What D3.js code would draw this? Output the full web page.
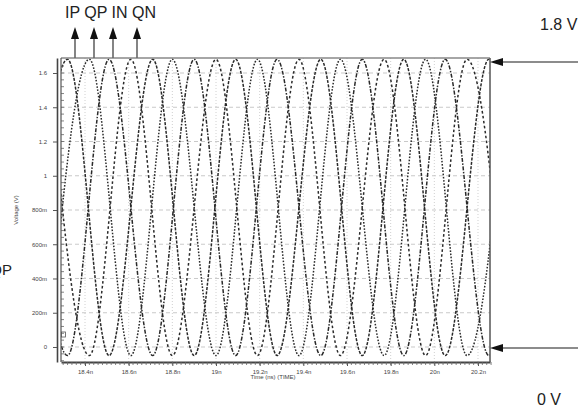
<!DOCTYPE html>
<html lang="en">
<head>
<meta charset="UTF-8">
<title>IQ clock waveforms</title>
<script src="https://d3js.org/d3.v7.min.js"></script>
<style>
    body { margin: 0; background: #fff; }
    svg { display: block; font-family: "Liberation Sans", Arial, sans-serif; }
    .small_text { font-size: 6px; fill: #444; }
    .big_text { font-size: 16px; fill: #222; }
</style>
</head>
<body>
<svg width="578" height="408"></svg>

<script>
    // the four clock phases
    const signals = ["IP", "QP", "IN", "QN"];
    // time (ns) of every peak along the top, left to right; the owner cycles IN, QN, IP, QP, ...
    const peakTimes = [18.13, 18.23, 18.32, 18.42, 18.51, 18.61, 18.71, 18.80, 18.90, 19.00,
                       19.09, 19.19, 19.28, 19.38, 19.48, 19.57, 19.67, 19.77, 19.86, 19.96,
                       20.05, 20.15, 20.25, 20.34, 20.44];
    const firstPeak = "IN";
    // swing of each waveform (V)
    const vHigh = 1.68;
    const vLow = -0.05;

    const xTickValues = [18.4, 18.6, 18.8, 19.0, 19.2, 19.4, 19.6, 19.8, 20.0, 20.2];
    const xTickLabels = ["18.4n", "18.6n", "18.8n", "19n", "19.2n", "19.4n", "19.6n", "19.8n", "20n", "20.2n"];
    const yTickValues = [0, 0.2, 0.4, 0.6, 0.8, 1.0, 1.2, 1.4, 1.6];
    const yTickLabels = ["0", "200m", "400m", "600m", "800m", "1", "1.2", "1.4", "1.6"];

    // dash style per phase
    const dashes = {IP: "3,1.4", QP: "1.6,1.6", IN: "4,1.5,1.5,1.5", QN: "2.6,2.4"};

    let svg = d3.select("svg");

    const x = d3.scaleLinear().domain([18.29, 20.255]).range([61, 490]);
    const y = d3.scaleLinear().domain([-0.0876, 1.6876]).range([362, 58]);

    svg.append("clipPath").attr("id", "plotClip")
        .append("rect").attr("x", 61).attr("y", 58).attr("width", 429).attr("height", 304);

    // grid
    svg.append("g").selectAll("line").data(yTickValues).enter().append("line")
        .attr("x1", 61).attr("x2", 490)
        .attr("y1", d => y(d)).attr("y2", d => y(d))
        .attr("stroke", "#bbb").attr("stroke-width", 0.8).attr("stroke-dasharray", "4,3");
    svg.append("g").selectAll("line").data(xTickValues).enter().append("line")
        .attr("x1", d => x(d)).attr("x2", d => x(d))
        .attr("y1", 58).attr("y2", 362)
        .attr("stroke", "#c4c4c4").attr("stroke-width", 0.8).attr("stroke-dasharray", "1,2");

    // knots for each phase: own peaks high, opposite phase's peaks low
    const start = signals.indexOf(firstPeak);
    const peaks = peakTimes.map((t, i) => ({t: t, sig: signals[(start + i) % 4]}));
    const waves = signals.map(function (s, k) {
        const opposite = signals[(k + 2) % 4];
        return {
            name: s,
            pts: peaks.filter(p => p.sig === s || p.sig === opposite)
                .map(p => ({t: p.t, v: p.sig === s ? vHigh : vLow}))
        };
    });

    const line = d3.line()
        .x(d => x(d.t))
        .y(d => y(d.v))
        .curve(d3.curveMonotoneX);

    svg.append("g").attr("clip-path", "url(#plotClip)")
        .selectAll("path").data(waves).enter().append("path")
        .attr("d", d => line(d.pts))
        .attr("fill", "none")
        .attr("stroke", "#2a2a2a")
        .attr("stroke-width", 1.5)
        .attr("stroke-dasharray", d => dashes[d.name]);

    // y axis
    const yAxis = svg.append("g").attr("transform", "translate(57,0)")
        .call(d3.axisLeft(y).tickValues(yTickValues)
            .tickFormat((d, i) => yTickLabels[i])
            .tickSize(4).tickSizeOuter(0).tickPadding(6));
    yAxis.select(".domain").attr("stroke", "#444").attr("stroke-width", 1.6);
    yAxis.selectAll(".tick line").attr("stroke", "#555");
    yAxis.selectAll("text").attr("class", "small_text").attr("font-family", null).attr("font-size", null);

    svg.append("g").selectAll("line").data(d3.range(-0.08, 1.68, 0.04)).enter().append("line")
        .attr("x1", 61).attr("x2", 64)
        .attr("y1", d => y(d)).attr("y2", d => y(d))
        .attr("stroke", "#666").attr("stroke-width", 0.8);

    // x axis
    const xAxis = svg.append("g").attr("transform", "translate(0,362)")
        .call(d3.axisBottom(x).tickValues(xTickValues)
            .tickFormat((d, i) => xTickLabels[i])
            .tickSize(4).tickSizeOuter(0).tickPadding(4));
    xAxis.select(".domain").attr("stroke", "#444").attr("stroke-width", 2);
    xAxis.selectAll(".tick line").attr("stroke", "#555");
    xAxis.selectAll("text").attr("class", "small_text").attr("font-family", null).attr("font-size", null);

    svg.append("g").selectAll("line").data(d3.range(18.30, 20.26, 0.02)).enter().append("line")
        .attr("x1", d => x(d)).attr("x2", d => x(d))
        .attr("y1", 362).attr("y2", 365)
        .attr("stroke", "#666").attr("stroke-width", 0.8);

    // frame
    svg.append("line").attr("x1", 61).attr("x2", 490).attr("y1", 58).attr("y2", 58)
        .attr("stroke", "#888").attr("stroke-width", 1.5);
    svg.append("line").attr("x1", 490).attr("x2", 490).attr("y1", 58).attr("y2", 362)
        .attr("stroke", "#555").attr("stroke-width", 1.5);
    svg.append("line").attr("x1", 61).attr("x2", 61).attr("y1", 58).attr("y2", 362)
        .attr("stroke", "#555").attr("stroke-width", 1.2);
    svg.append("rect").attr("x", 61.5).attr("y", 332).attr("width", 4).attr("height", 5)
        .attr("fill", "none").attr("stroke", "#555").attr("stroke-width", 0.8);

    // axis titles
    svg.append("text").attr("class", "small_text")
        .attr("x", 273).attr("y", 379).attr("text-anchor", "middle")
        .text("Time (ns) (TIME)");
    svg.append("text").attr("class", "small_text")
        .attr("transform", "translate(18,210) rotate(-90)").attr("text-anchor", "middle")
        .text("Voltage (V)");

    // phase arrows at the top
    const arrowX = [75, 94, 113, 137];
    const arrowsTop = svg.append("g");
    arrowX.forEach(function (ax) {
        arrowsTop.append("line").attr("x1", ax).attr("x2", ax).attr("y1", 58).attr("y2", 38)
            .attr("stroke", "#666").attr("stroke-width", 1.6);
        arrowsTop.append("path").attr("d", `M${ax},27 L${ax - 4},39 L${ax + 4},39 Z`).attr("fill", "#111");
    });
    svg.append("text").attr("class", "big_text").attr("x", 65).attr("y", 18)
        .text(signals.join(" "));

    // level arrows at the right
    [62, 348].forEach(function (ay) {
        svg.append("line").attr("x1", 578).attr("x2", 500).attr("y1", ay).attr("y2", ay)
            .attr("stroke", "#666").attr("stroke-width", 1.6);
        svg.append("path").attr("d", `M490,${ay} L503,${ay - 4} L503,${ay + 4} Z`).attr("fill", "#111");
    });
    svg.append("text").attr("class", "big_text").attr("x", 540).attr("y", 30).text("1.8 V");
    svg.append("text").attr("class", "big_text").attr("x", 537).attr("y", 405).text("0 V");

    // cut-off label at the left edge
    svg.append("text").attr("class", "big_text").attr("x", 12).attr("y", 275)
        .attr("text-anchor", "end").style("font-size", "15px").text("QP");
</script>
</body>
</html>
